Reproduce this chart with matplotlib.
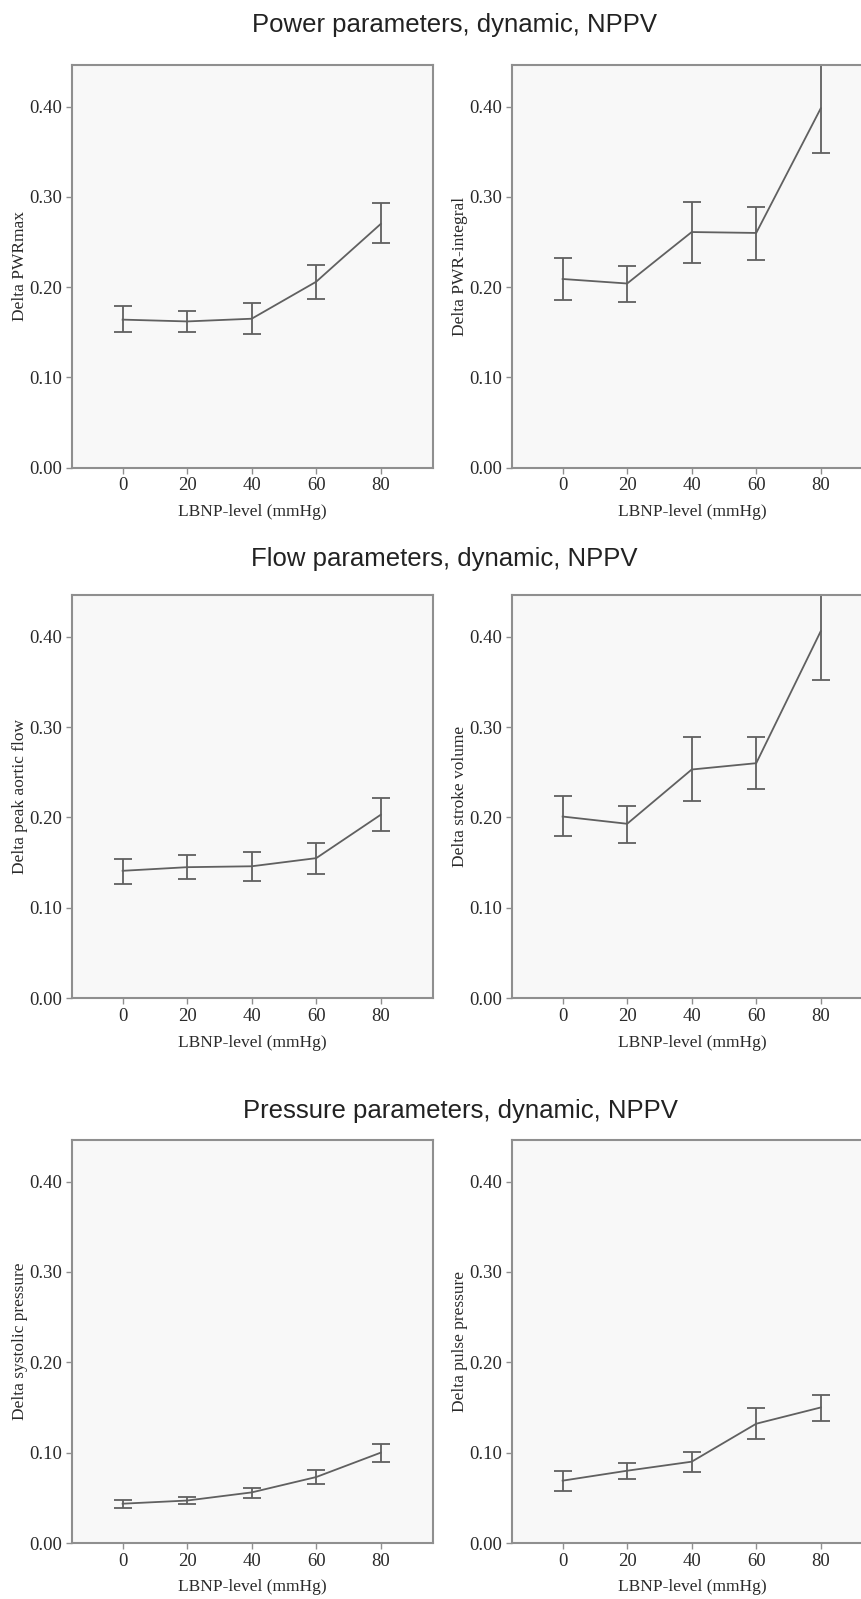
import matplotlib
matplotlib.use("Agg")
import matplotlib.pyplot as plt

lbnp = [0, 20, 40, 60, 80]
y_ticks = [0.0, 0.1, 0.2, 0.3, 0.4]

# mean, lower and upper error bounds
pwrmax_mean = [0.164, 0.162, 0.165, 0.206, 0.270]
pwrmax_lo = [0.150, 0.150, 0.148, 0.187, 0.249]
pwrmax_hi = [0.179, 0.174, 0.182, 0.225, 0.293]

pwrint_mean = [0.209, 0.204, 0.261, 0.260, 0.398]
pwrint_lo = [0.186, 0.184, 0.227, 0.230, 0.349]
pwrint_hi = [0.232, 0.223, 0.294, 0.289, 0.446]

aortic_mean = [0.141, 0.145, 0.146, 0.155, 0.203]
aortic_lo = [0.126, 0.132, 0.130, 0.137, 0.185]
aortic_hi = [0.154, 0.159, 0.162, 0.172, 0.221]

stroke_mean = [0.201, 0.193, 0.253, 0.260, 0.406]
stroke_lo = [0.179, 0.172, 0.218, 0.231, 0.352]
stroke_hi = [0.224, 0.213, 0.289, 0.289, 0.446]

systolic_mean = [0.0435, 0.047, 0.056, 0.073, 0.100]
systolic_lo = [0.039, 0.043, 0.050, 0.065, 0.090]
systolic_hi = [0.048, 0.051, 0.061, 0.081, 0.110]

pulse_mean = [0.069, 0.080, 0.090, 0.132, 0.150]
pulse_lo = [0.057, 0.071, 0.079, 0.115, 0.135]
pulse_hi = [0.080, 0.089, 0.101, 0.149, 0.164]

panels = [
    ("Delta PWRmax", pwrmax_mean, pwrmax_lo, pwrmax_hi),
    ("Delta PWR-integral", pwrint_mean, pwrint_lo, pwrint_hi),
    ("Delta peak aortic flow", aortic_mean, aortic_lo, aortic_hi),
    ("Delta stroke volume", stroke_mean, stroke_lo, stroke_hi),
    ("Delta systolic pressure", systolic_mean, systolic_lo, systolic_hi),
    ("Delta pulse pressure", pulse_mean, pulse_lo, pulse_hi),
]

row_titles = ["Power parameters, dynamic, NPPV",
              "Flow parameters, dynamic, NPPV",
              "Pressure parameters, dynamic, NPPV"]

W, H = 862, 1599
fig = plt.figure(figsize=(W / 100, H / 100), dpi=100)
fig.patch.set_facecolor("white")

lefts = [72.3, 512.3]
width = 360.4
rows = [(65, 467.7), (595, 998.3), (1140, 1543)]
title_pos = [(455, 25), (444, 559), (460, 1111)]

spine_c = "#8f8f8f"
line_c = "#606060"
text_c = "#2a2a2a"
serif = "Liberation Serif"

for i, (label, mean, lo, hi) in enumerate(panels):
    r, c = divmod(i, 2)
    top, bot = rows[r]
    ax = fig.add_axes([lefts[c] / W, 1 - bot / H, width / W, (bot - top) / H])
    ax.set_facecolor("#f8f8f8")
    err = [[m - l for m, l in zip(mean, lo)], [h - m for m, h in zip(mean, hi)]]
    ax.errorbar(lbnp, mean, yerr=err, color=line_c, lw=1.3, elinewidth=1.3,
                capsize=6.5, capthick=1.3, clip_on=False)
    ax.set_xlim(-15.6, 96.1)
    ax.set_ylim(0, 0.446)
    ax.set_xticks(lbnp)
    ax.set_yticks(y_ticks)
    ax.set_yticklabels(["%.2f" % v for v in y_ticks])
    for s in ax.spines.values():
        s.set_color(spine_c)
        s.set_linewidth(1.5)
    ax.tick_params(colors=spine_c, length=4, width=1.0, pad=3)
    for t in ax.get_xticklabels() + ax.get_yticklabels():
        t.set_fontfamily(serif)
        t.set_fontsize(13.5)
        t.set_color(text_c)
    ax.set_xlabel("LBNP-level (mmHg)", fontfamily=serif, fontsize=12.5,
                  color=text_c, labelpad=7)
    ax.set_ylabel(label, fontfamily=serif, fontsize=12.5, color=text_c, labelpad=1.5)

for txt, (x, y) in zip(row_titles, title_pos):
    fig.text(x / W, 1 - y / H, txt, ha="center", va="center",
             fontfamily="Liberation Sans", fontsize=18.5, color="#222222")

plt.savefig("out.png", dpi=100, facecolor="white")
